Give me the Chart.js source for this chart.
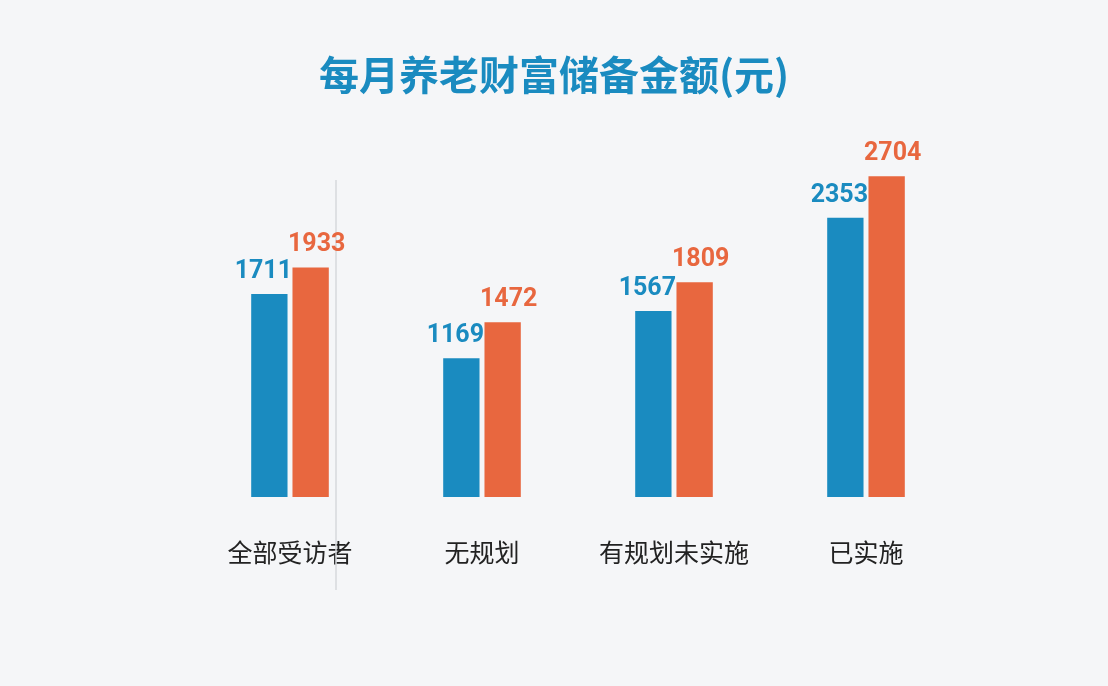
<!DOCTYPE html>
<html><head><meta charset="utf-8">
<script src="https://cdn.jsdelivr.net/npm/chart.js@4/dist/chart.umd.min.js"></script>
<style>html,body{margin:0;background:#f5f6f8;}#wrap{width:1108px;height:686px;}</style>
</head><body><div id="wrap"><canvas id="c"></canvas></div>
<script>
var categories = ['全部受访者', '无规划', '有规划未实施', '已实施'];
var seriesBlue = [1711, 1169, 1567, 2353];
var seriesOrange = [1933, 1472, 1809, 2704];
var titleText = '每月养老财富储备金额(元)';

// title, separator line, value labels
var drawExtras = {
    id: 'extras',
    afterDatasetsDraw: function (chart) {
        var ctx = chart.ctx, x = chart.scales.x;
        ctx.save();
        ctx.fillStyle = '#1a8bc0';
        ctx.font = 'bold 40px "Noto Sans CJK SC"';
        ctx.textAlign = 'center';
        ctx.textBaseline = 'middle';
        ctx.fillText(titleText, 554, 75);
        var sx = (x.getPixelForValue(0) + x.getPixelForValue(1)) / 2 - 50;
        ctx.strokeStyle = '#d6d8dc';
        ctx.lineWidth = 1.5;
        ctx.beginPath(); ctx.moveTo(sx, 180); ctx.lineTo(sx, 590); ctx.stroke();
        ctx.font = 'bold 25px Roboto';
        ctx.textBaseline = 'bottom';
        chart.data.datasets.forEach(function (ds, i) {
            chart.getDatasetMeta(i).data.forEach(function (bar, j) {
                ctx.fillStyle = ds.backgroundColor;
                ctx.fillText(ds.data[j], bar.x - (i === 0 ? 6 : -6), bar.y - 10);
            });
        });
        ctx.restore();
    }
};

new Chart(document.getElementById('c').getContext('2d'), {
    type: 'bar',
    data: {
        labels: categories,
        datasets: [
            { data: seriesBlue, backgroundColor: '#1a8bc0', barPercentage: 0.88, categoryPercentage: 0.43 },
            { data: seriesOrange, backgroundColor: '#e8673f', barPercentage: 0.88, categoryPercentage: 0.43 }
        ]
    },
    options: {
        responsive: true,
        maintainAspectRatio: false,
        animation: false,
        layout: { padding: { left: 194, right: 146, top: 141, bottom: 87 } },
        plugins: { legend: { display: false }, tooltip: { enabled: false } },
        scales: {
            x: {
                grid: { display: false }, border: { display: false },
                ticks: { color: '#222', font: { size: 25, family: '"Noto Sans CJK SC"' }, padding: 32 }
            },
            y: { display: false, min: 0, max: 3000 }
        }
    },
    plugins: [drawExtras]
});
</script></body></html>
